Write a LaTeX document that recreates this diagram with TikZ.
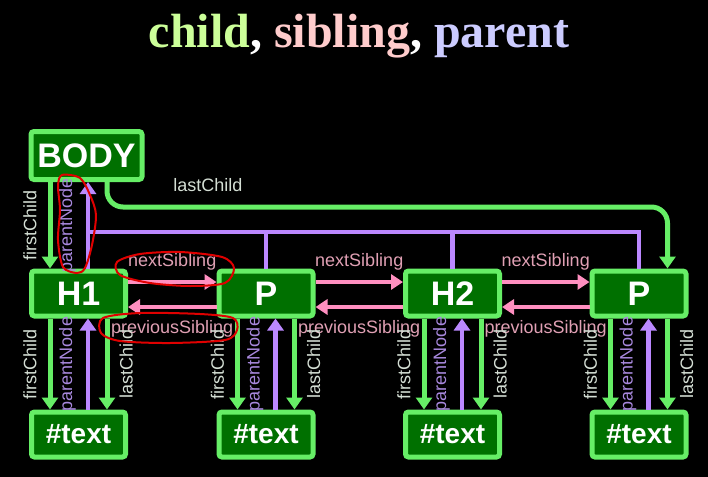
\documentclass[tikz,border=0pt]{standalone}
\usepackage{fontspec}
\setmainfont{Liberation Sans}
\newfontfamily\titlefont{Liberation Serif}
\usetikzlibrary{arrows.meta}

\definecolor{boxLine}{HTML}{66EE66}
\definecolor{boxFill}{HTML}{007000}
\definecolor{parentLine}{HTML}{BB88FF}
\definecolor{siblingLine}{HTML}{FF8FC0}
\definecolor{childText}{HTML}{D4DED4}
\definecolor{parentText}{HTML}{A888DD}
\definecolor{siblingText}{HTML}{E0A0B4}
\definecolor{childTitle}{HTML}{CCFF99}
\definecolor{siblingTitle}{HTML}{FFCCCC}
\definecolor{parentTitle}{HTML}{CCCCFF}
\definecolor{markRed}{HTML}{E00000}

\tikzset{
  domBox/.style={draw=boxLine, fill=boxFill, line width=2.5pt, rounded corners=1.5pt,
    minimum width=47pt, minimum height=22.5pt, inner sep=0pt, text=white,
    font=\fontsize{17}{17}\selectfont\bfseries},
  textBox/.style={domBox, font=\fontsize{14}{14}\selectfont\bfseries},
  childEdge/.style={draw=boxLine, line width=2.5pt, -{Triangle[width=8pt,length=6pt]}},
  parentEdge/.style={draw=parentLine, line width=2.2pt, -{Triangle[width=8pt,length=6pt]}},
  parentLink/.style={draw=parentLine, line width=2.2pt},
  siblingEdge/.style={draw=siblingLine, line width=2.2pt, -{Triangle[width=7.5pt,length=6pt]}},
  edgeText/.style={font=\fontsize{9}{9}\selectfont},
  childLeft/.style={edgeText, text=childText, rotate=90, anchor=south, inner sep=5.5pt},
  childRight/.style={edgeText, text=childText, rotate=90, anchor=north, inner sep=5pt},
  parentLeft/.style={edgeText, text=parentText, rotate=90, anchor=south, inner sep=5pt},
  siblingText/.style={edgeText, text=siblingText},
  redMark/.style={draw=markRed, line width=1pt}
}

\begin{document}
\begin{tikzpicture}[x=0.5pt,y=-0.5pt]
\fill[black] (0,0) rectangle (708,477);
\useasboundingbox (0,0) rectangle (708,477);

\node[anchor=base, text=white, font=\titlefont\fontsize{24}{24}\selectfont\bfseries] (title) at (359,47)
  {\textcolor{childTitle}{child}, \textcolor{siblingTitle}{sibling}, \textcolor{parentTitle}{parent}};

\node[domBox, minimum width=55.5pt, minimum height=24pt] (body) at (86.5,155.5) {BODY};
\node[domBox] (h1) at (78.5,293.5) {H1};
\node[domBox] (p1) at (266,293.5) {P};
\node[domBox] (h2) at (452.5,293.5) {H2};
\node[domBox] (p2) at (639,293.5) {P};
\node[textBox] (t1) at (78.5,434.5) {\#text};
\node[textBox] (t2) at (266,434.5) {\#text};
\node[textBox] (t3) at (452.5,434.5) {\#text};
\node[textBox] (t4) at (639,434.5) {\#text};

\coordinate (lastRow) at (0,207);
\coordinate (parentRow) at (0,232);

\draw[childEdge] ([xshift=-14.25pt]h1.north |- body.south) -- ([xshift=-14.25pt]h1.north)
  node[childLeft, midway] {firstChild};
\draw[parentEdge] ([xshift=4.75pt]h1.north) -- ([xshift=4.75pt]h1.north |- body.south)
  node[parentLeft, midway] {parentNode};
\draw[parentLink] (p2.north) |- ([xshift=4.75pt]h1.north |- parentRow);
\draw[parentLink] (p1.north) -- (p1.north |- parentRow);
\draw[parentLink] (h2.north) -- (h2.north |- parentRow);
\draw[childEdge, rounded corners=8pt] ([xshift=10.25pt]body.south)
  |- ([xshift=14.25pt]p2.north |- lastRow) node[edgeText, text=childText, pos=0.59, above=3pt] {lastChild}
  -- ([xshift=14.25pt]p2.north);

\draw[siblingEdge] ([yshift=5.75pt]h1.east) -- ([yshift=5.75pt]p1.west)
  node[siblingText, midway, above=1.5pt] {nextSibling};
\draw[siblingEdge] ([yshift=-6.75pt]p1.west) -- ([yshift=-6.75pt]h1.east)
  node[siblingText, midway, below=2.5pt] {previousSibling};
\draw[siblingEdge] ([yshift=5.75pt]p1.east) -- ([yshift=5.75pt]h2.west)
  node[siblingText, midway, above=1.5pt] {nextSibling};
\draw[siblingEdge] ([yshift=-6.75pt]h2.west) -- ([yshift=-6.75pt]p1.east)
  node[siblingText, midway, below=2.5pt] {previousSibling};
\draw[siblingEdge] ([yshift=5.75pt]h2.east) -- ([yshift=5.75pt]p2.west)
  node[siblingText, midway, above=1.5pt] {nextSibling};
\draw[siblingEdge] ([yshift=-6.75pt]p2.west) -- ([yshift=-6.75pt]h2.east)
  node[siblingText, midway, below=2.5pt] {previousSibling};

\draw[childEdge] ([xshift=-14.25pt]h1.south) -- ([xshift=-14.25pt]t1.north) node[childLeft, midway] {firstChild};
\draw[parentEdge] ([xshift=4.75pt]t1.north) -- ([xshift=4.75pt]h1.south) node[parentLeft, midway] {parentNode};
\draw[childEdge] ([xshift=14.25pt]h1.south) -- ([xshift=14.25pt]t1.north) node[childRight, midway] {lastChild};

\draw[childEdge] ([xshift=-14.25pt]p1.south) -- ([xshift=-14.25pt]t2.north) node[childLeft, midway] {firstChild};
\draw[parentEdge] ([xshift=4.75pt]t2.north) -- ([xshift=4.75pt]p1.south) node[parentLeft, midway] {parentNode};
\draw[childEdge] ([xshift=14.25pt]p1.south) -- ([xshift=14.25pt]t2.north) node[childRight, midway] {lastChild};

\draw[childEdge] ([xshift=-14.25pt]h2.south) -- ([xshift=-14.25pt]t3.north) node[childLeft, midway] {firstChild};
\draw[parentEdge] ([xshift=4.75pt]t3.north) -- ([xshift=4.75pt]h2.south) node[parentLeft, midway] {parentNode};
\draw[childEdge] ([xshift=14.25pt]h2.south) -- ([xshift=14.25pt]t3.north) node[childRight, midway] {lastChild};

\draw[childEdge] ([xshift=-14.25pt]p2.south) -- ([xshift=-14.25pt]t4.north) node[childLeft, midway] {firstChild};
\draw[parentEdge] ([xshift=4.75pt]t4.north) -- ([xshift=4.75pt]p2.south) node[parentLeft, midway] {parentNode};
\draw[childEdge] ([xshift=14.25pt]p2.south) -- ([xshift=14.25pt]t4.north) node[childRight, midway] {lastChild};

\draw[redMark] plot[smooth cycle] coordinates {(62,175) (80,178) (90,195) (96,215) (92,245) (85,268) (77,273) (63,267) (58,240) (60,210) (58,186)};
\draw[redMark] plot[smooth cycle] coordinates {(117,262) (140,254) (180,252) (222,257) (234,268) (225,283) (190,286) (150,283) (120,275)};
\draw[redMark] plot[smooth cycle] coordinates {(103,318) (140,313) (200,314) (233,318) (237,330) (225,340) (170,343) (120,341) (101,333)};
\end{tikzpicture}
\end{document}
